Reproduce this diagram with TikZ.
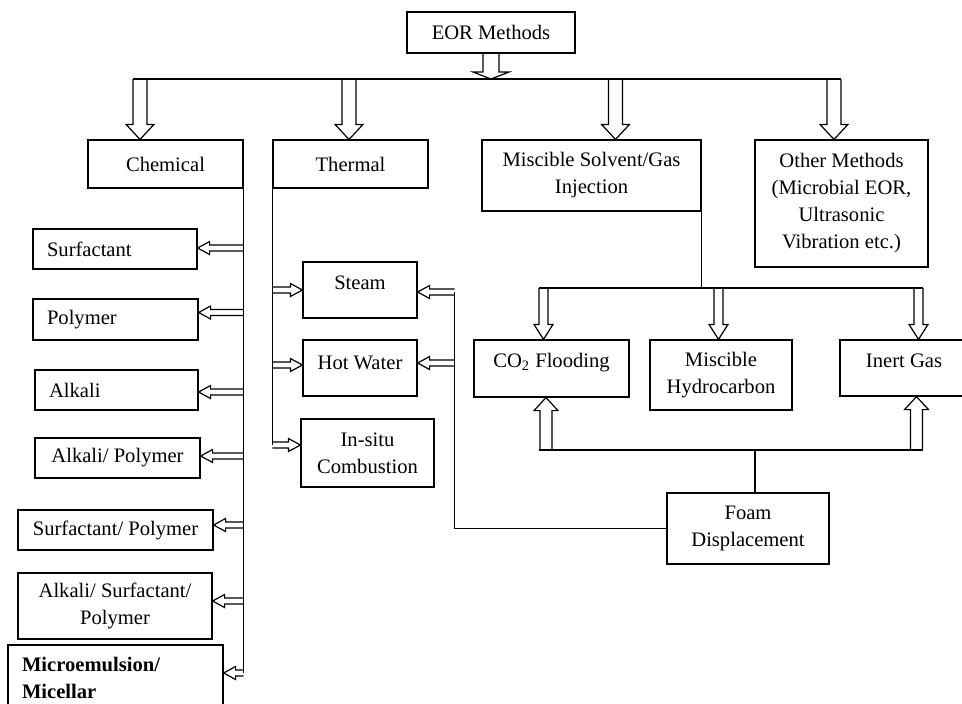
\documentclass[tikz,border=0pt]{standalone}
\usepackage{fontspec}
\setmainfont{Liberation Serif}
\usetikzlibrary{calc}

\tikzset{
  hollow/.style n args={3}{to path={
    ($(\tikztotarget)!#3!(\tikztostart)$) coordinate (hb)
    ($(\tikztostart)!#1!90:(\tikztotarget)$) -- ($(hb)!#1!90:(\tikztotarget)$)
    -- ($(hb)!#2!90:(\tikztotarget)$) -- (\tikztotarget)
    -- ($(hb)!#2!-90:(\tikztotarget)$) -- ($(hb)!#1!-90:(\tikztotarget)$)
    -- ($(\tikztostart)!#1!-90:(\tikztotarget)$)}},
  mainarrow/.style={hollow={4pt}{9pt}{3.5pt}},
  bigarrow/.style={hollow={3.5pt}{7pt}{7.5pt}},
  midarrow/.style={hollow={2.25pt}{4.75pt}{7.5pt}},
  uparrow/.style={hollow={3pt}{6pt}{6.5pt}},
  sidearrow/.style={hollow={1.5pt}{3.25pt}{6pt}},
}

\begin{document}
\begin{tikzpicture}[x=0.5pt, y=-0.5pt, line width=0.6pt]
        \tikzstyle{every node}=[font=\fontsize{10.3}{13.5}\selectfont]
        \tikzstyle{box}=[draw, rectangle, inner sep=0pt, align=center]
        \tikzstyle{lbox}=[box, align=left, inner xsep=7pt]
        \tikzstyle{topbox}=[box, text height=13.5pt, text depth=14.5pt]
        \useasboundingbox (0,0) rectangle (962,703);

% EOR classification: chemical, thermal, miscible gas and other methods

        \node[box, minimum width=84pt, minimum height=20.5pt] (eor) at (491,32.5) {EOR Methods};
        \node[box, minimum width=77.5pt, minimum height=24pt] (chem) at (165.5,164) {Chemical};
        \node[box, minimum width=77.5pt, minimum height=24pt] (therm) at (350.5,164) {Thermal};
        \node[box, minimum width=109.5pt, minimum height=35.5pt] (misc) at (591.5,175.5) {Miscible Solvent/Gas\\Injection};
        \node[box, minimum width=86.5pt, minimum height=63.5pt] (other) at (841.5,203.5) {Other Methods\\(Microbial EOR,\\Ultrasonic\\Vibration etc.)};

        \node[lbox, text width=68pt, minimum height=20pt] (surf) at (115,249) {Surfactant};
        \node[lbox, text width=68.5pt, minimum height=20.5pt] (poly) at (115.5,319.5) {Polymer};
        \node[lbox, text width=67.5pt, minimum height=20pt] (alk) at (116.5,390) {Alkali};
        \node[box, minimum width=82.5pt, minimum height=20pt] (alkpoly) at (117.5,458) {Alkali/ Polymer};
        \node[box, minimum width=97.5pt, minimum height=20pt] (surfpoly) at (115.5,530) {Surfactant/ Polymer};
        \node[box, minimum width=97pt, minimum height=33pt] (asp) at (115,606) {Alkali/ Surfactant/\\Polymer};
        \node[lbox, text width=93.5pt, minimum height=33pt, font=\fontsize{10.3}{13.5}\selectfont\bfseries] (micro) at (115.5,678) {Microemulsion/\\Micellar};

        \node[topbox, minimum width=57pt, minimum height=28pt] (steam) at (360,290) {Steam};
        \node[box, text height=14.5pt, text depth=13.5pt, minimum width=57pt, minimum height=28pt] (hot) at (360,368) {Hot Water};
        \node[box, minimum width=66.5pt, minimum height=34pt] (insitu) at (367.5,453) {In-situ\\Combustion};

        \node[box, text height=13.5pt, text depth=15pt, minimum width=77.5pt, minimum height=28.5pt] (co2) at (551.5,368.5) {CO\textsubscript{2} Flooding};
        \node[box, minimum width=71pt, minimum height=35pt] (mhc) at (721,375) {Miscible\\Hydrocarbon};
        \node[topbox, minimum width=64pt, minimum height=28pt] (inert) at (904,368) {Inert Gas};
        \node[box, minimum width=81pt, minimum height=35.5pt] (foam) at (748,528.5) {Foam\\Displacement};

        % top level
        \coordinate (b1) at (140,79);
        \coordinate (b2) at (349,79);
        \coordinate (b3) at (615.5,79);
        \coordinate (b4) at (834,79);
        \draw ([xshift=-3.5pt]b1) -- ([xshift=3.5pt]b4);
        \draw (eor.south) to[mainarrow] (eor.south |- b1);
        \draw (b1) to[bigarrow] (b1 |- chem.north);
        \draw (b2) to[bigarrow] (b2 |- therm.north);
        \draw (b3) to[bigarrow] (b3 |- misc.north);
        \draw (b4) to[bigarrow] (b4 |- other.north);

        % chemical
        \coordinate (mi) at ([yshift=2.5pt]micro.east);
        \draw (chem.south east) -- (chem.south east |- mi);
        \foreach \n/\s in {surf/0.5,poly/3.5,alk/-1,alkpoly/1,surfpoly/2.5,asp/2.5,micro/2.5}{
            \path ([yshift=\s pt]\n.east) coordinate (t);
            \draw (chem.south east |- t) to[sidearrow] (t);
        }

        % thermal
        \coordinate (ti) at ([yshift=4pt]insitu.west);
        \draw (therm.south west) -- (therm.south west |- ti);
        \draw (therm.south west |- steam.west) to[sidearrow] (steam.west);
        \draw ([yshift=1.5pt]therm.south west |- hot.west) to[sidearrow] ([yshift=1.5pt]hot.west);
        \draw (therm.south west |- ti) to[sidearrow] (ti);

        % miscible gas
        \coordinate (c1) at (543.5,288);
        \coordinate (c2) at (718.5,288);
        \coordinate (c3) at (918.5,288);
        \draw (misc.south east) -- (misc.south east |- c1);
        \draw ([xshift=-2.25pt]c1) -- ([xshift=2.25pt]c3);
        \draw (c1) to[midarrow] (c1 |- co2.north);
        \draw (c2) to[midarrow] (c2 |- mhc.north);
        \draw (c3) to[midarrow] (c3 |- inert.north);

        % foam
        \coordinate (u1) at (546,450);
        \coordinate (u2) at (916.5,450);
        \coordinate (d0) at (755,450);
        \draw ([xshift=-3.5pt]u1) -- ([xshift=3pt]u2);
        \draw (u1) to[uparrow] (u1 |- co2.south);
        \draw (u2) to[uparrow] (u2 |- inert.south);
        \draw (d0) -- (d0 |- foam.north);
        \coordinate (fs) at ([xshift=18.5pt,yshift=-1pt]steam.east);
        \draw (foam.west) -| (fs);
        \draw (fs) to[sidearrow] ([yshift=-1pt]steam.east);
        \draw ([yshift=2.5pt]fs |- hot.east) to[sidearrow] ([yshift=2.5pt]hot.east);

    \end{tikzpicture}
\end{document}
